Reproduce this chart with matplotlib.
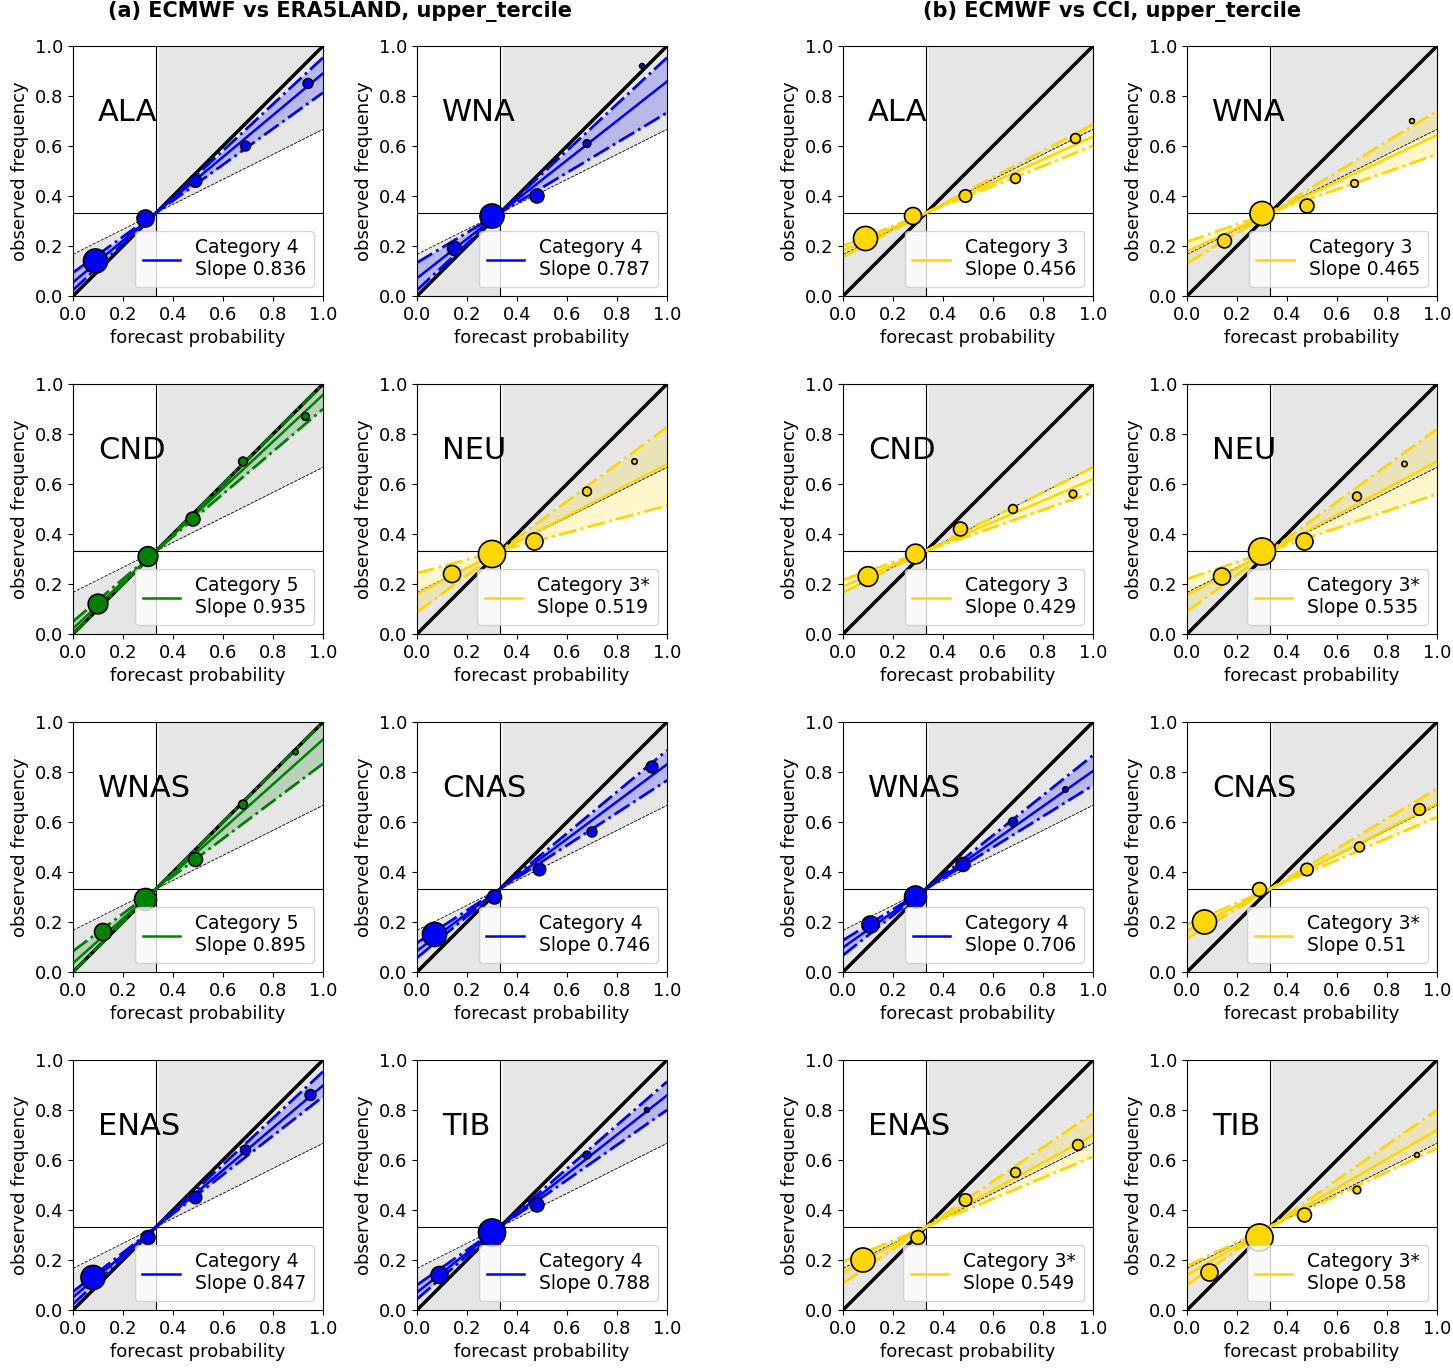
import numpy as np
import matplotlib
matplotlib.use("Agg")
import matplotlib.pyplot as plt

# (region, colour, category, slope, slope_lo, slope_hi)
PANELS_A = [
    ("ALA", "blue", "4", 0.836, 0.72, 0.93),
    ("WNA", "blue", "4", 0.787, 0.60, 0.93),
    ("CND", "green", "5", 0.935, 0.85, 1.00),
    ("NEU", "gold", "3*", 0.519, 0.27, 0.74),
    ("WNAS", "green", "5", 0.895, 0.75, 1.00),
    ("CNAS", "blue", "4", 0.746, 0.65, 0.83),
    ("ENAS", "blue", "4", 0.847, 0.78, 0.93),
    ("TIB", "blue", "4", 0.788, 0.70, 0.87),
]
PANELS_B = [
    ("ALA", "gold", "3", 0.456, 0.40, 0.53),
    ("WNA", "gold", "3", 0.465, 0.35, 0.61),
    ("CND", "gold", "3", 0.429, 0.35, 0.50),
    ("NEU", "gold", "3*", 0.535, 0.34, 0.73),
    ("WNAS", "blue", "4", 0.706, 0.62, 0.80),
    ("CNAS", "gold", "3*", 0.51, 0.43, 0.60),
    ("ENAS", "gold", "3*", 0.549, 0.42, 0.68),
    ("TIB", "gold", "3*", 0.58, 0.47, 0.70),
]
X_A = [
    [0.09, 0.29, 0.49, 0.69, 0.94], [0.15, 0.30, 0.48, 0.68, 0.90],
    [0.10, 0.30, 0.48, 0.68, 0.93], [0.14, 0.30, 0.47, 0.68, 0.87],
    [0.12, 0.29, 0.49, 0.68, 0.89], [0.07, 0.31, 0.49, 0.70, 0.94],
    [0.08, 0.30, 0.49, 0.69, 0.95], [0.09, 0.30, 0.48, 0.68, 0.92],
]
Y_A = [
    [0.14, 0.31, 0.46, 0.60, 0.85], [0.19, 0.32, 0.40, 0.61, 0.92],
    [0.12, 0.31, 0.46, 0.69, 0.87], [0.24, 0.32, 0.37, 0.57, 0.69],
    [0.16, 0.29, 0.45, 0.67, 0.88], [0.15, 0.30, 0.41, 0.56, 0.82],
    [0.13, 0.29, 0.45, 0.64, 0.86], [0.14, 0.31, 0.42, 0.62, 0.80],
]
X_B = [
    [0.09, 0.28, 0.49, 0.69, 0.93], [0.15, 0.30, 0.48, 0.67, 0.90],
    [0.10, 0.29, 0.47, 0.68, 0.92], [0.14, 0.30, 0.47, 0.68, 0.87],
    [0.11, 0.29, 0.48, 0.68, 0.89], [0.07, 0.29, 0.48, 0.69, 0.93],
    [0.08, 0.30, 0.49, 0.69, 0.94], [0.09, 0.29, 0.47, 0.68, 0.92],
]
Y_B = [
    [0.23, 0.32, 0.40, 0.47, 0.63], [0.22, 0.33, 0.36, 0.45, 0.70],
    [0.23, 0.32, 0.42, 0.50, 0.56], [0.23, 0.33, 0.37, 0.55, 0.68],
    [0.19, 0.30, 0.43, 0.60, 0.73], [0.20, 0.33, 0.41, 0.50, 0.65],
    [0.20, 0.29, 0.44, 0.55, 0.66], [0.15, 0.29, 0.38, 0.48, 0.62],
]
SIZES = [
    [300, 150, 80, 50, 50], [100, 300, 100, 30, 12],
    [200, 200, 100, 40, 30], [150, 380, 150, 40, 15],
    [150, 250, 100, 40, 15], [300, 100, 80, 50, 70],
    [300, 100, 80, 50, 60], [150, 380, 100, 30, 12],
]

C = 1 / 3
plt.rcParams["font.size"] = 13

fig = plt.figure(figsize=(14.53, 13.72), dpi=100)
W, H = 1453, 1372
lefts = [73, 417, 843, 1187]
tops = [46, 384, 722, 1060]


def draw(ax, panel, xs, ys, sizes):
    name, col, cat, s, lo, hi = panel
    xx = np.linspace(0, 1, 101)
    nos = C + 0.5 * (xx - C)
    ax.fill_between(xx[xx >= C], nos[xx >= C], 1, color="0.9", lw=0)
    ax.fill_between(xx[xx <= C], 0, nos[xx <= C], color="0.9", lw=0)
    ax.plot([0, 1], [0, 1], color="k", lw=2.5)
    ax.plot(xx, nos, "k--", lw=0.6)
    ax.axvline(C, color="k", lw=0.8)
    ax.axhline(C, color="k", lw=0.8)
    yl = C + lo * (xx - C)
    yh = C + hi * (xx - C)
    ax.fill_between(xx, yl, yh, color=col, alpha=0.2, lw=0)
    ax.plot(xx, yl, color=col, ls="-.", lw=2)
    ax.plot(xx, yh, color=col, ls="-.", lw=2)
    ax.plot(xx, C + s * (xx - C), color=col, lw=1.8,
            label=f"Category {cat}\nSlope {s:g}")
    ax.scatter(xs, ys, s=sizes, c=col, edgecolors="k", linewidths=1.2, zorder=5)
    ax.text(0.1, 0.7, name, fontsize=22)
    ax.set_xlim(0, 1)
    ax.set_ylim(0, 1)
    ax.set_xticks(np.arange(0, 1.01, 0.2))
    ax.set_yticks(np.arange(0, 1.01, 0.2))
    ax.set_xlabel("forecast probability")
    ax.set_ylabel("observed frequency")
    ax.legend(loc="lower right", fontsize=13.5, handlelength=2)


for i in range(8):
    r, c = divmod(i, 2)
    for half, panels, X, Y in ((0, PANELS_A, X_A, Y_A), (1, PANELS_B, X_B, Y_B)):
        l = lefts[half * 2 + c]
        t = tops[r]
        ax = fig.add_axes([l / W, 1 - (t + 250) / H, 250 / W, 250 / H])
        draw(ax, panels[i], X[i], Y[i], SIZES[i])

fig.text(340 / W, 1 - 12 / H, "(a) ECMWF vs ERA5LAND, upper_tercile",
         ha="center", va="center", fontsize=15, weight="bold")
fig.text(1112 / W, 1 - 12 / H, "(b) ECMWF vs CCI, upper_tercile",
         ha="center", va="center", fontsize=15, weight="bold")
fig.savefig("out.png", dpi=100)
